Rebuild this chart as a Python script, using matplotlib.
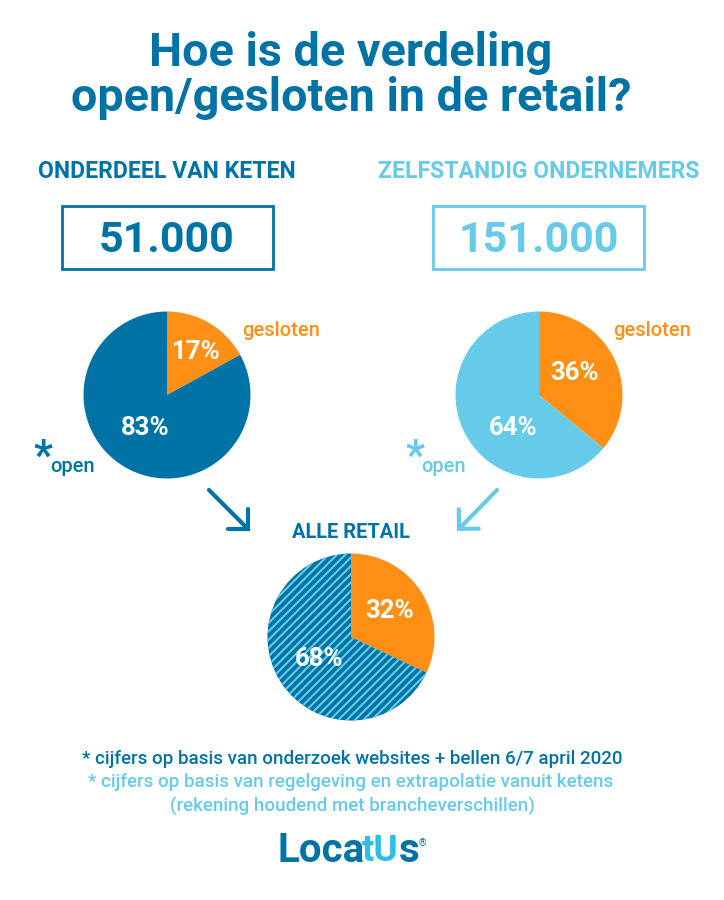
import matplotlib
matplotlib.use('Agg')
import matplotlib.pyplot as plt
from matplotlib.patches import Rectangle

plt.rcParams['font.family'] = ['Roboto', 'DejaVu Sans']
plt.rcParams['hatch.linewidth'] = 1.5

DARK = '#0073a6'
LIGHT = '#66cbe9'
ORANGE = '#ff9015'
LOGO_LIGHT = '#2dbfe3'

title_lines = ['Hoe is de verdeling', 'open/gesloten in de retail?']
group_labels = ['ONDERDEEL VAN KETEN', 'ZELFSTANDIG ONDERNEMERS']
group_totals = ['51.000', '151.000']
slice_labels = ['gesloten', 'open']
keten_values = [17, 83]
zelfstandig_values = [36, 64]
alle_values = [32, 68]
total_label = 'ALLE RETAIL'
footnotes = ['* cijfers op basis van onderzoek websites + bellen 6/7 april 2020',
             '* cijfers op basis van regelgeving en extrapolatie vanuit ketens',
             '(rekening houdend met brancheverschillen)']

fig = plt.figure(figsize=(7.24, 9), dpi=100, facecolor='white')
ax = fig.add_axes([0, 0, 1, 1])


def txt(x, y, s, color, size, weight='bold', ha='center'):
    # y is measured from the top of the picture
    return ax.text(x, 900 - y, s, color=color, fontsize=size, fontweight=weight,
                   ha=ha, va='center')


def pie(cx, cy, values, main_color, hatched=False):
    wedges, _ = ax.pie(values, colors=[ORANGE, main_color], startangle=90, counterclock=False,
                       center=(cx, 900 - cy), radius=83.5, frame=False,
                       wedgeprops={'linewidth': 0})
    if hatched:
        wedges[1].set_hatch('////')
        wedges[1].set_edgecolor(LIGHT)
        wedges[1].set_linewidth(0)
    return wedges


def arrow(x0, y0, x1, y1, color):
    ax.annotate('', xy=(x1, 900 - y1), xytext=(x0, 900 - y0),
                arrowprops=dict(arrowstyle='->,head_length=0.5,head_width=0.5', color=color, lw=3,
                                capstyle='round', joinstyle='miter', shrinkA=0, shrinkB=0,
                                mutation_scale=20))


pie(167, 395, keten_values, DARK)
pie(539, 395, zelfstandig_values, LIGHT)
pie(351, 637, alle_values, DARK, hatched=True)

ax.set_xlim(0, 724)
ax.set_ylim(0, 900)
ax.set_aspect('auto')
ax.axis('off')

txt(351, 53, title_lines[0], DARK, 33.7)
txt(351, 98, title_lines[1], DARK, 33.7)

txt(167, 172, group_labels[0], DARK, 16.6)
txt(539, 172, group_labels[1], LIGHT, 16.6)

ax.add_patch(Rectangle((62, 900 - 269), 211, 63, fill=False, ec=DARK, lw=2))
ax.add_patch(Rectangle((433, 900 - 269), 211, 63, fill=False, ec=LIGHT, lw=2))
txt(167, 241, group_totals[0], DARK, 31)
txt(539, 241, group_totals[1], LIGHT, 31)

txt(196, 352, f'{keten_values[0]}%', 'white', 18.5)
txt(145, 428, f'{keten_values[1]}%', 'white', 18.5)
txt(575, 373, f'{zelfstandig_values[0]}%', 'white', 18.5)
txt(513, 428, f'{zelfstandig_values[1]}%', 'white', 18.5)
txt(390, 611, f'{alle_values[0]}%', 'white', 18.5)
txt(319, 659, f'{alle_values[1]}%', 'white', 18.5)

txt(281, 331, slice_labels[0], ORANGE, 14.5, weight='medium')
txt(652, 331, slice_labels[0], ORANGE, 14.5, weight='medium')
txt(73, 466, slice_labels[1], DARK, 14.5, weight='medium')
txt(444, 466, slice_labels[1], LIGHT, 14.5, weight='medium')
txt(43, 457, '*', DARK, 30)
txt(415, 457, '*', LIGHT, 30)

arrow(209, 490, 250, 531, DARK)
arrow(497, 490, 457, 531, LIGHT)

txt(351, 532, total_label, DARK, 14.4)

txt(352, 759, footnotes[0], DARK, 13.5, weight='medium')
txt(351, 782, footnotes[1], LIGHT, 13.5, weight='medium')
txt(352, 806, footnotes[2], LIGHT, 13.5, weight='medium')

# logo, built from separate pieces because of the two colours
txt(277, 851, 'Loca', DARK, 29, ha='left')
txt(362, 851, 'tU', LOGO_LIGHT, 26.5, ha='left')
txt(399, 851, 's', DARK, 29, ha='left')
txt(422, 843, '®', DARK, 7, weight='normal')

fig.savefig('out.png', dpi=100, facecolor='white')
